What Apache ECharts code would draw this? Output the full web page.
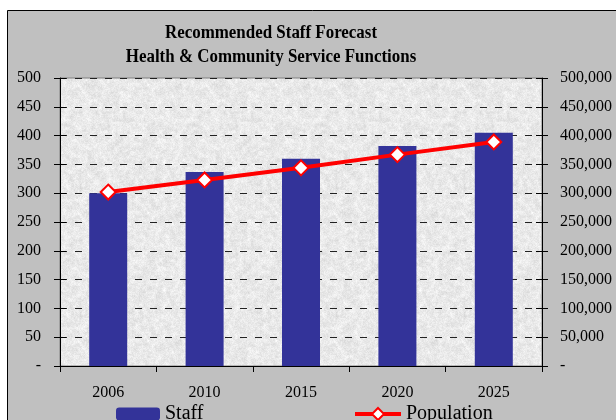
<!DOCTYPE html>
<html>
<head>
<meta charset="utf-8">
<script src="https://cdn.jsdelivr.net/npm/echarts@6/dist/echarts.min.js"></script>
<style>
  html, body { margin: 0; padding: 0; background: #ffffff; }
  #chart { width: 616px; height: 420px; }
</style>
</head>
<body>
<div id="chart"></div>
<script>
// Forecast data
const years = ['2006', '2010', '2015', '2020', '2025'];
const staff = [300, 337, 360, 382, 405];
const population = [302000, 323000, 344000, 367000, 389000];
const titleLines = ['Recommended Staff Forecast', 'Health & Community Service Functions'];

// Granite-like texture for the plot area (deterministic hash noise)
function makeGranite() {
  const size = 128;
  const c = document.createElement('canvas');
  c.width = size; c.height = size;
  const ctx = c.getContext('2d');
  const img = ctx.createImageData(size, size);
  function h(x, y) {
    const s = Math.sin(x * 127.1 + y * 311.7) * 43758.5453;
    return s - Math.floor(s);
  }
  // smooth value noise at a given cell size
  function vn(x, y, cell, seed) {
    const gx = Math.floor(x / cell), gy = Math.floor(y / cell);
    const fx = (x % cell) / cell, fy = (y % cell) / cell;
    const m = size / cell;
    const a = h((gx % m) + seed, gy % m);
    const b = h(((gx + 1) % m) + seed, gy % m);
    const c0 = h((gx % m) + seed, (gy + 1) % m);
    const d = h(((gx + 1) % m) + seed, (gy + 1) % m);
    const sx = fx * fx * (3 - 2 * fx), sy = fy * fy * (3 - 2 * fy);
    return (a * (1 - sx) + b * sx) * (1 - sy) + (c0 * (1 - sx) + d * sx) * sy;
  }
  for (let y = 0; y < size; y++) {
    for (let x = 0; x < size; x++) {
      const n = h(x, y) * 0.35 + vn(x, y, 2, 300) * 0.3 + vn(x, y, 4, 700) * 0.35;
      const v = Math.round(212 + n * 42);
      const i = (y * size + x) * 4;
      img.data[i] = v; img.data[i + 1] = v; img.data[i + 2] = v; img.data[i + 3] = 255;
    }
  }
  ctx.putImageData(img, 0, 0);
  return c;
}

const serif = '"Liberation Serif", "DejaVu Serif", serif';
const chart = echarts.init(document.getElementById('chart'), null, { renderer: 'canvas' });

const tickOut = { show: true, inside: false, length: 6, lineStyle: { color: '#000', width: 1 } };
const tickIn = { show: true, inside: true, length: 6, lineStyle: { color: '#000', width: 1 } };

// Two-line bold title, slightly condensed
const titleText = titleLines.map((t, i) => ({
  type: 'text', silent: true, z: 10,
  x: 271, y: 33 + i * 24, scaleX: 0.94,
  style: {
    text: t, fontFamily: serif, fontWeight: 'bold', fontSize: 18,
    fill: '#000', align: 'center', verticalAlign: 'middle'
  }
}));

chart.setOption({
  backgroundColor: '#ffffff',
  animation: false,
  graphic: [{
    type: 'rect', z: -10, silent: true,
    shape: { x: 7.5, y: 10.5, width: 700, height: 500 },
    style: { fill: '#c0c0c0', stroke: '#000000', lineWidth: 1 }
  }].concat(titleText),
  grid: {
    left: 60, right: 74, top: 78, bottom: 54, show: true,
    backgroundColor: { image: makeGranite(), repeat: 'repeat' },
    borderColor: '#808080', borderWidth: 1
  },
  legend: [{
    data: ['Staff'], left: 111, top: 399, itemWidth: 44, itemHeight: 13, itemGap: 5,
    textStyle: { fontFamily: serif, fontSize: 20, color: '#000' }
  }, {
    data: ['Population'], left: 348, top: 399, itemWidth: 46, itemHeight: 15, itemGap: 5,
    lineStyle: { color: '#ff0000', width: 4 },
    textStyle: { fontFamily: serif, fontSize: 20, color: '#000' }
  }],
  xAxis: [{
    type: 'category', data: years, boundaryGap: true,
    axisLine: { lineStyle: { color: '#000', width: 1 } },
    axisTick: { show: true, inside: false, length: 6, alignWithLabel: false, lineStyle: { color: '#000' } },
    axisLabel: { fontFamily: serif, fontSize: 16, color: '#000', margin: 19 },
    splitLine: { show: false }
  }],
  yAxis: [{
    type: 'value', position: 'left', min: 0, max: 500, interval: 50,
    axisLine: { show: true, lineStyle: { color: '#000', width: 1 } },
    axisTick: tickOut,
    axisLabel: {
      fontFamily: serif, fontSize: 16, color: '#000', margin: 19,
      formatter: v => v === 0 ? '-' : String(v)
    },
    splitLine: { show: true, lineStyle: { color: '#222', type: [7, 8], width: 1 } }
  }, {
    type: 'value', position: 'right', min: 0, max: 500000, interval: 50000,
    axisLine: { show: true, lineStyle: { color: '#000', width: 1 } },
    axisTick: tickOut,
    axisLabel: {
      fontFamily: serif, fontSize: 16, color: '#000', margin: 18,
      formatter: v => v === 0 ? '-' : v.toLocaleString('en-US')
    },
    splitLine: { show: false }
  }, {
    type: 'value', position: 'left', min: 0, max: 500, interval: 50,
    axisLine: { show: false }, axisTick: tickIn, axisLabel: { show: false }, splitLine: { show: false }
  }, {
    type: 'value', position: 'right', min: 0, max: 500, interval: 50,
    axisLine: { show: false }, axisTick: tickIn, axisLabel: { show: false }, splitLine: { show: false }
  }],
  series: [{
    name: 'Staff', type: 'bar', data: staff, yAxisIndex: 0,
    barWidth: 38,
    itemStyle: { color: '#333399' }
  }, {
    name: 'Population', type: 'line', data: population, yAxisIndex: 1,
    symbol: 'diamond', symbolSize: 15,
    lineStyle: { color: '#ff0000', width: 4 },
    itemStyle: { color: '#ffffff', borderColor: '#ff0000', borderWidth: 2 },
    z: 5
  }]
});
</script>
</body>
</html>
